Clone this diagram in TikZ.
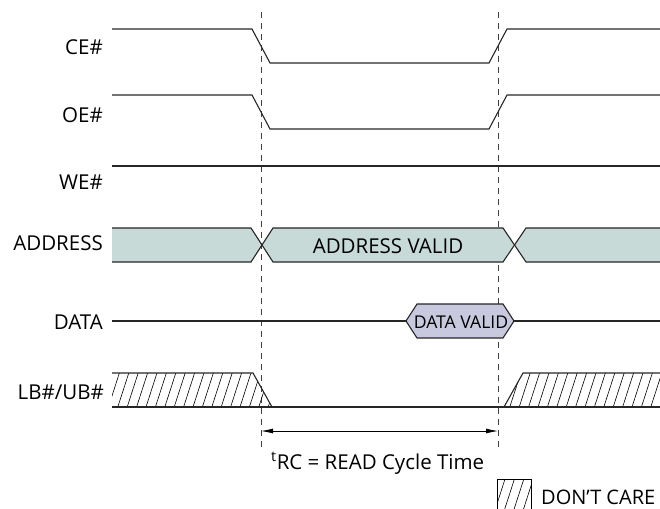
\documentclass[tikz,border=0pt]{standalone}
\usepackage{fontspec}
\setmainfont{Open Sans}
\usetikzlibrary{arrows.meta,positioning,calc}
\definecolor{addrfill}{RGB}{200,218,216}
\definecolor{datafill}{RGB}{200,200,222}

\begin{document}
\begin{tikzpicture}[x=1pt,y=-1pt]
        \tikzstyle{sig}=[line width=1.1pt, black!85]
        \tikzstyle{txt}=[inner sep=0pt, font=\fontsize{20.5}{24}\selectfont]
        \tikzstyle{lbl}=[txt, anchor=base east]
        \tikzstyle{cursor}=[line width=0.9pt, black!75, dash pattern=on 6pt off 5pt]
        \tikzstyle{hatch}=[path picture={
            \foreach \i in {-60,-50.6,...,700}
                \draw[line width=0.6pt] ([xshift=\i pt]path picture bounding box.south west) -- ++(14.2,-44);}]
        \useasboundingbox (0,0) rectangle (660,508);

        % Signal names
        \node (ce) [lbl] at (103,55) {CE\#};
        \node (oe) [lbl] at (103,122) {OE\#};
        \node (we) [lbl] at (103,189) {WE\#};
        \node (addr) [lbl] at (103,250) {ADDRESS};
        \node (data) [lbl] at (103,329) {DATA};
        \node (lbub) [lbl] at (104,399) {LB\#/UB\#};

        % Cycle limits
        \coordinate (starttop) at (261,12);
        \coordinate (startbot) at (261,447);
        \coordinate (endtop) at (498,12);
        \coordinate (endbot) at (498,447);
        \draw[cursor] (starttop) -- (startbot);
        \draw[cursor] (endtop) -- (endbot);

        % CE#
        \draw[sig] (112,29) -- (252,29) -- (270,63) -- (489,63) -- (507,29) -- (660,29);

        % OE#
        \draw[sig] (112,95) -- (252,95) -- (270,129) -- (489,129) -- (507,95) -- (660,95);

        % WE#
        \draw[sig] (112,166) -- (660,166);

        % ADDRESS
        \fill[addrfill] (112,228) -- (251,228) -- (262,245) -- (251,262) -- (112,262) -- cycle;
        \fill[addrfill] (273,228) -- (503,228) -- (514,245) -- (503,262) -- (273,262) -- (262,245) -- cycle;
        \fill[addrfill] (526,228) -- (660,228) -- (660,262) -- (526,262) -- (514,245) -- cycle;
        \draw[sig] (112,228) -- (251,228) -- (273,262) -- (503,262) -- (526,228) -- (660,228);
        \draw[sig] (112,262) -- (251,262) -- (273,228) -- (503,228) -- (526,262) -- (660,262);
        \node (addrvalid) [txt, anchor=base] at (388,253) {ADDRESS VALID};

        % DATA
        \draw[sig] (112,321) -- (406,321);
        \draw[sig] (514,321) -- (660,321);
        \draw[sig, fill=datafill] (406,321) -- (417,304) -- (503,304) -- (514,321) -- (503,338) -- (417,338) -- cycle;
        \node (datavalid) [txt, anchor=base, font=\fontsize{17.6}{21}\selectfont] at (461,328) {DATA VALID};

        % LB#/UB#
        \path[hatch] (112,373) -- (253,373) -- (272,407) -- (112,407) -- cycle;
        \path[hatch] (504,407) -- (523,373) -- (660,373) -- (660,407) -- cycle;
        \draw[sig] (112,373) -- (253,373) -- (272,407);
        \draw[sig] (504,407) -- (523,373) -- (660,373);
        \draw[sig] (112,407) -- (660,407);

        % tRC
        \coordinate (rcstart) at (261,431);
        \coordinate (rcend) at (498,431);
        \draw[{Latex[length=12pt,width=5pt]}-{Latex[length=12pt,width=5pt]}, line width=0.8pt] (rcstart) -- (rcend);
        \node (trc) [txt, anchor=base west] at (271,469) {\textsuperscript{t}RC = READ Cycle Time};

        % Legend
        \draw[line width=0.8pt, hatch] (497,479) rectangle (531,515);
        \node (dontcare) [txt, anchor=base west, font=\fontsize{20}{24}\selectfont] at (541,504) {DON’T CARE};
    \end{tikzpicture}
\end{document}
